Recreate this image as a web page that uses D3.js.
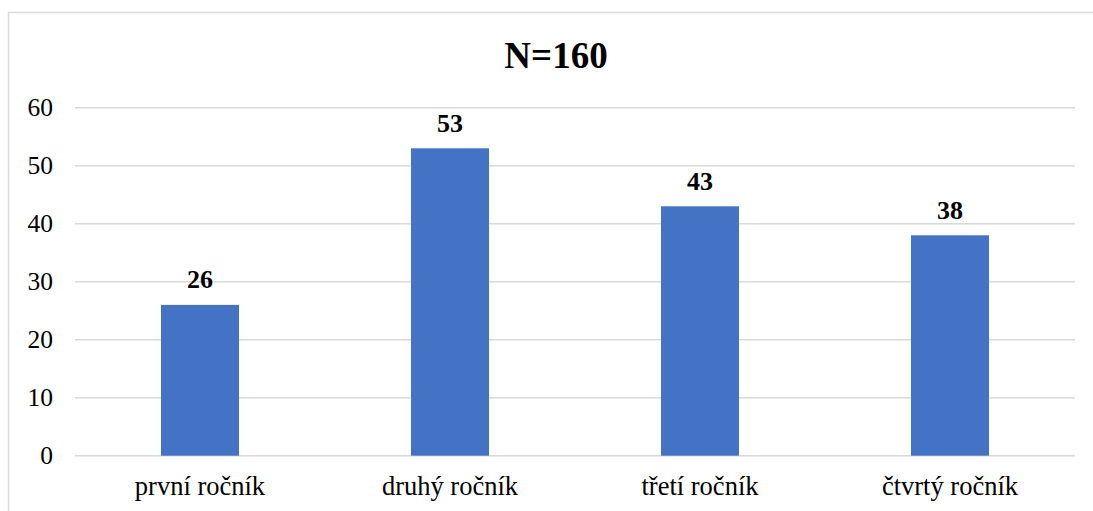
<!DOCTYPE html>
<html><head><meta charset="utf-8">
<script src="https://cdn.jsdelivr.net/npm/d3@7"></script>
<style>body{margin:0;background:#fff}svg{display:block}</style>
</head><body>
<script>
const categories = ["první ročník", "druhý ročník", "třetí ročník", "čtvrtý ročník"];
const values = [26, 53, 43, 38];
const yTicks = [0, 10, 20, 30, 40, 50, 60];
const title = "N=160";

const W = 1093, H = 511;
const svg = d3.select("body").append("svg").attr("width", W).attr("height", H);
svg.append("rect").attr("x", 8.5).attr("y", 12.5).attr("width", W).attr("height", H)
  .attr("fill", "#fff").attr("stroke", "#d9d9d9").attr("stroke-width", 1.5);

const x = d3.scaleBand().domain(categories).range([75, 1075]).paddingInner(0.688).paddingOuter(0.344);
const y = d3.scaleLinear().domain([0, 60]).range([455.7, 107.7]);
const font = "Liberation Serif";

svg.append("g").selectAll("line").data(yTicks).join("line")
  .attr("x1", 75).attr("x2", 1075).attr("y1", d => y(d)).attr("y2", d => y(d))
  .attr("stroke", "#d9d9d9").attr("stroke-width", 1.5);

svg.append("g").selectAll("text").data(yTicks).join("text")
  .attr("x", 53).attr("y", d => y(d)).attr("dy", "0.34em").attr("text-anchor", "end")
  .style("font-family", font).style("font-size", "25.5px").attr("fill", "#000").text(d => d);

svg.append("g").selectAll("rect").data(values).join("rect")
  .attr("x", (d, i) => x(categories[i])).attr("width", x.bandwidth())
  .attr("y", d => y(d)).attr("height", d => y(0) - y(d)).attr("fill", "#4472C4");

svg.append("g").selectAll("text").data(values).join("text")
  .attr("x", (d, i) => x(categories[i]) + x.bandwidth() / 2).attr("y", d => y(d) - 16.5)
  .attr("text-anchor", "middle").style("font-family", font).style("font-weight", "bold")
  .style("font-size", "26px").attr("fill", "#000").text(d => d);

svg.append("g").selectAll("text").data(categories).join("text")
  .attr("x", d => x(d) + x.bandwidth() / 2).attr("y", 495)
  .attr("text-anchor", "middle").style("font-family", font)
  .style("font-size", "26.5px").attr("fill", "#000").text(d => d);

svg.append("text").attr("x", 556).attr("y", 67.5).attr("text-anchor", "middle")
  .style("font-family", font).style("font-weight", "bold").style("font-size", "37px")
  .attr("fill", "#000").text(title);
</script>
</body></html>
